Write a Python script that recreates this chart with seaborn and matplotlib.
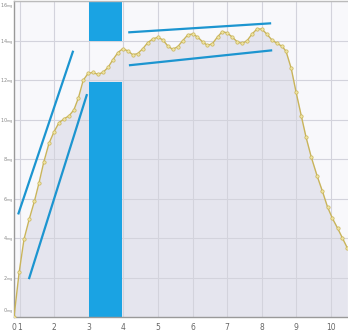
import matplotlib
matplotlib.use("Agg")
import matplotlib.pyplot as plt
import seaborn as sns
import numpy as np
import pandas as pd

# ---- data ----
time_h = [0.84, 0.99, 1.13, 1.28, 1.43, 1.56, 1.70, 1.85, 2.00, 2.14, 2.29, 2.43,
          2.57, 2.70, 2.84, 2.98, 3.12, 3.26, 3.41, 3.56, 3.70, 3.84, 3.98, 4.12,
          4.27, 4.41, 4.56, 4.70, 4.85, 5.00, 5.14, 5.28, 5.42, 5.57, 5.71, 5.86,
          6.00, 6.14, 6.29, 6.43, 6.57, 6.72, 6.86, 7.00, 7.14, 7.29, 7.43, 7.57,
          7.72, 7.86, 8.00, 8.14, 8.29, 8.44, 8.59, 8.70, 8.85, 8.99, 9.14, 9.28,
          9.43, 9.60, 9.75, 9.90, 10.04, 10.19, 10.33, 10.47]
level_mg = [0.0, 2.28, 3.95, 4.96, 5.87, 6.78, 7.85, 8.80, 9.40, 9.85, 10.05, 10.20,
            10.50, 11.10, 12.00, 12.35, 12.40, 12.30, 12.40, 12.66, 13.05, 13.40, 13.60, 13.50,
            13.30, 13.35, 13.60, 13.90, 14.10, 14.18, 14.05, 13.75, 13.57, 13.70, 14.00, 14.30,
            14.35, 14.20, 13.95, 13.77, 13.85, 14.20, 14.47, 14.40, 14.20, 13.95, 13.87, 14.00,
            14.35, 14.60, 14.60, 14.35, 14.05, 13.87, 13.72, 13.47, 12.60, 11.40, 10.20, 9.10,
            8.10, 7.14, 6.38, 5.57, 5.00, 4.50, 4.00, 3.50]

# blue band (time window) and its two segments (mg ranges)
band_x0, band_x1 = 3.0, 3.95
band_bottoms = [0.0, 14.0]
band_tops = [11.9, 16.0]

# blue trend lines: (x0, y0, x1, y1)
trend_x0 = [0.96, 1.27, 4.14, 4.16]
trend_y0 = [5.2, 1.92, 14.43, 12.76]
trend_x1 = [2.55, 2.95, 8.27, 8.30]
trend_y1 = [13.5, 11.3, 14.89, 13.52]

x_tick_pos = [0.84, 1, 2, 3, 4, 5, 6, 7, 8, 9, 10]
x_tick_lab = ["0", "1", "2", "3", "4", "5", "6", "7", "8", "9", "10"]
y_ticks = [0, 2, 4, 6, 8, 10, 12, 14, 16]

# ---- drawing ----
sns.set_style("white")
fig = plt.figure(figsize=(3.48, 3.34), dpi=100)
ax = fig.add_axes([14 / 348, 17 / 334, 1 - 14 / 348, 316 / 334])
ax.set_facecolor("#f8f8fb")

df = pd.DataFrame({"t": time_h, "mg": level_mg})

ax.fill_between(df["t"], df["mg"], 0, color="#e5e5ee", zorder=1, lw=0)

# grid (drawn over the fill, faint)
for xv in x_tick_pos[1:]:
    ax.axvline(xv, color="#d3d3dc", lw=0.8, zorder=1.5)
for yv in y_ticks[1:]:
    ax.axhline(yv, color="#d3d3dc", lw=0.8, zorder=1.5)

# blue band
for b, tp in zip(band_bottoms, band_tops):
    ax.bar((band_x0 + band_x1) / 2, tp - b, bottom=b, width=band_x1 - band_x0,
           color="#1aa3e3", zorder=2, lw=0)

sns.lineplot(data=df, x="t", y="mg", ax=ax, color="#c9b45a", lw=1.0,
             marker="o", markersize=2.4, markerfacecolor="#efe4a2",
             markeredgecolor="#c9b45a", markeredgewidth=0.5, zorder=3)

for x0, y0, x1, y1 in zip(trend_x0, trend_y0, trend_x1, trend_y1):
    ax.plot([x0, x1], [y0, y1], color="#1c95d0", lw=1.6, solid_capstyle="butt", zorder=4)

ax.set_xlim(0.84, 10.49)
ax.set_ylim(0, 16.02)
ax.set_xticks(x_tick_pos)
ax.set_xticklabels(x_tick_lab, fontsize=5.5, color="#666666")
ax.set_yticks(y_ticks)
ylabs = ax.set_yticklabels([f"{v}" + r"$_{\mathrm{mg}}$" for v in y_ticks],
                           fontsize=3.5, color="#888888")
ylabs[-1].set_verticalalignment("top")
ylabs[0].set_verticalalignment("bottom")
ax.tick_params(axis="y", length=0, pad=0.4)
ax.tick_params(axis="x", length=0, pad=4)
ax.set_xlabel("")
ax.set_ylabel("")

for s in ["left", "bottom"]:
    ax.spines[s].set_color("#999999")
    ax.spines[s].set_linewidth(1.0)
ax.spines["top"].set_color("#bbbbbb")
ax.spines["top"].set_linewidth(1.0)
ax.spines["right"].set_visible(False)

fig.savefig("out.png", dpi=100)
